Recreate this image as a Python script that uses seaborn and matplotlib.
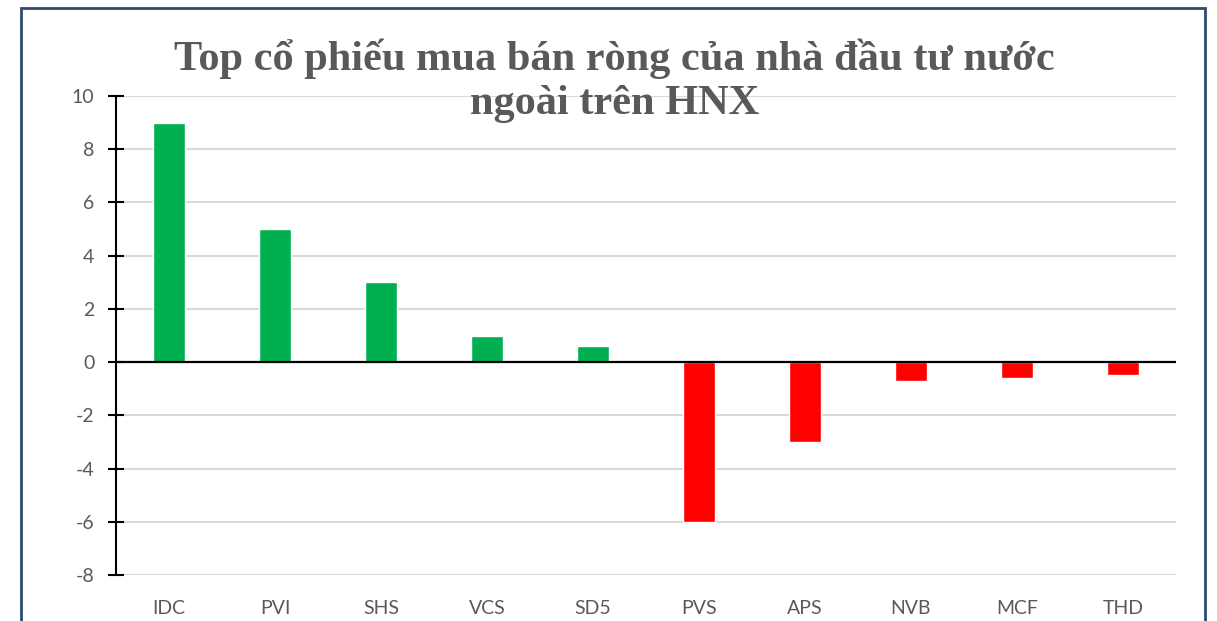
import matplotlib
matplotlib.use("Agg")
import matplotlib.pyplot as plt
import matplotlib.patches as patches
import pandas as pd
import seaborn as sns

# Net buy/sell values
tickers = ['IDC', 'PVI', 'SHS', 'VCS', 'SD5', 'PVS', 'APS', 'NVB', 'MCF', 'THD']
values = [9, 5, 3, 1, 0.6, -6, -3, -0.7, -0.6, -0.5]
y_ticks = [-8, -6, -4, -2, 0, 2, 4, 6, 8, 10]
title = 'Top cổ phiếu mua bán ròng của nhà đầu tư nước\nngoài trên HNX'

GREEN = '#00B050'
RED = '#FF0000'
GRAY_TEXT = '#595959'

df = pd.DataFrame({'ticker': tickers, 'value': values})
df['sign'] = ['pos' if v >= 0 else 'neg' for v in df['value']]

sns.set_style('white')
plt.rcParams['font.family'] = ['Lato', 'DejaVu Sans']
plt.rcParams['axes.unicode_minus'] = False

fig = plt.figure(figsize=(12.17, 6.21), dpi=100)
ax = fig.add_axes([116 / 1217, 1 - 575 / 621, 1060 / 1217, 479 / 621])

sns.barplot(data=df, x='ticker', y='value', hue='sign', dodge=False,
            palette={'pos': GREEN, 'neg': RED}, width=0.31, saturation=1,
            legend=False, ax=ax, zorder=3)

ax.set_ylim(-8, 10)
ax.set_xlim(-0.5, len(tickers) - 0.5)
ax.set_yticks(y_ticks)
ax.yaxis.grid(True, color='#D9D9D9', linewidth=1.5, zorder=0)
ax.xaxis.grid(False)
ax.set_axisbelow(True)
ax.axhline(0, color='black', linewidth=1.6, zorder=4)

for side in ['top', 'right', 'bottom']:
    ax.spines[side].set_visible(False)
ax.spines['left'].set_color('black')
ax.spines['left'].set_linewidth(1.5)

ax.tick_params(axis='y', left=True, direction='inout', length=11, width=1.5,
               color='black', labelsize=14, labelcolor=GRAY_TEXT, pad=10)
ax.tick_params(axis='x', length=0, labelsize=14, labelcolor=GRAY_TEXT, pad=18)
ax.set_xlabel('')
ax.set_ylabel('')

fig.text(0.505, 0.802, title, ha='center', va='bottom', fontsize=30.5,
         fontweight='bold', color=GRAY_TEXT, family=['Liberation Serif'],
         linespacing=1.19, zorder=5)

# outer chart border
border = patches.Rectangle((21 / 1217, -0.1), (1205 - 21) / 1217, 1.1 - 8 / 621,
                           transform=fig.transFigure, fill=False,
                           edgecolor='#2F4A6E', linewidth=2, clip_on=False)
fig.patches.append(border)

fig.savefig('out.png', dpi=100)
